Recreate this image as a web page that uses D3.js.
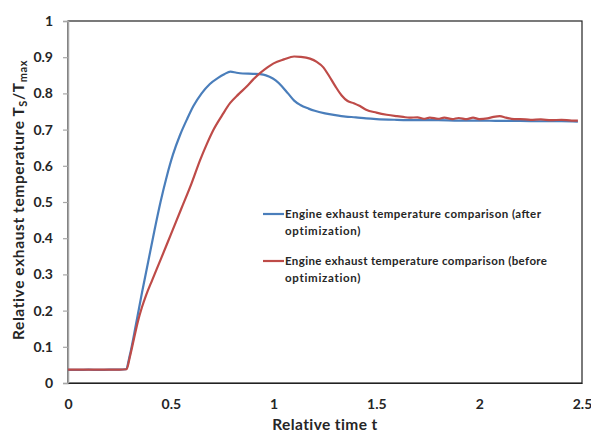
<!DOCTYPE html>
<html><head><meta charset="utf-8">
<script src="https://cdn.jsdelivr.net/npm/d3@7"></script>
<style>body{margin:0;background:#fff}svg{display:block}</style>
</head><body>
<svg id="chart" width="591" height="434"></svg>
<script>
const xTicks = [0, 0.5, 1, 1.5, 2, 2.5];
const yTicks = [0, 0.1, 0.2, 0.3, 0.4, 0.5, 0.6, 0.7, 0.8, 0.9, 1];
const seriesNames = [
  ["Engine exhaust temperature comparison (after", "optimization)"],
  ["Engine exhaust temperature comparison (before", "optimization)"]
];
const afterT = [0,0.05,0.1,0.15,0.2,0.25,0.282,0.3,0.33,0.36,0.39,0.42,0.45,0.48,0.51,0.545,0.58,0.61,0.65,0.69,0.73,0.76,0.79,0.82,0.85,0.9,0.95,0.98,1.01,1.04,1.07,1.1,1.13,1.17,1.2,1.25,1.3,1.35,1.4,1.45,1.5,1.6,1.7,1.8,1.9,2.0,2.1,2.2,2.3,2.4,2.48];
const afterV = [0.036,0.036,0.037,0.036,0.037,0.037,0.038,0.075,0.16,0.25,0.335,0.42,0.5,0.57,0.63,0.685,0.73,0.765,0.8,0.826,0.843,0.853,0.86,0.857,0.855,0.854,0.852,0.846,0.836,0.82,0.8,0.78,0.768,0.758,0.752,0.745,0.74,0.736,0.734,0.731,0.729,0.727,0.726,0.726,0.725,0.725,0.724,0.724,0.723,0.723,0.722];
const beforeT = [0,0.05,0.1,0.15,0.2,0.25,0.285,0.3,0.32,0.34,0.36,0.38,0.41,0.45,0.5,0.55,0.6,0.642,0.675,0.707,0.75,0.788,0.83,0.869,0.9,0.934,0.97,1.0,1.05,1.1,1.13,1.177,1.21,1.242,1.27,1.3,1.33,1.36,1.39,1.42,1.45,1.5,1.55,1.6,1.63,1.66,1.7,1.73,1.76,1.8,1.83,1.87,1.9,1.94,1.97,2.0,2.04,2.07,2.1,2.13,2.17,2.2,2.25,2.3,2.35,2.4,2.45,2.48];
const beforeV = [0.037,0.037,0.037,0.037,0.037,0.037,0.038,0.07,0.12,0.17,0.21,0.243,0.285,0.34,0.41,0.48,0.55,0.615,0.66,0.699,0.74,0.773,0.798,0.819,0.838,0.856,0.872,0.883,0.894,0.902,0.901,0.896,0.887,0.872,0.848,0.82,0.795,0.779,0.773,0.765,0.755,0.747,0.741,0.737,0.735,0.733,0.734,0.73,0.733,0.73,0.733,0.729,0.732,0.729,0.733,0.729,0.731,0.735,0.737,0.733,0.729,0.729,0.727,0.728,0.726,0.727,0.725,0.725];
const colors = ["#4a7ebb", "#be4b48"];

const svg = d3.select("#chart");
svg.append("rect").attr("width",591).attr("height",434).attr("fill","#fff");
const L = 68, R = 582, T = 21, B = 383;
const x = d3.scaleLinear().domain([0, 2.5]).range([L, R]);
const y = d3.scaleLinear().domain([0, 1]).range([B, T]);
const FONT = "Lato, sans-serif";

// frame
svg.append("rect").attr("x",L).attr("y",T).attr("width",R-L).attr("height",B-T)
  .attr("fill","none").attr("stroke","#222").attr("stroke-width",1.2);

// y axis
const yAxis = svg.append("g").attr("transform",`translate(${L},0)`)
  .call(d3.axisLeft(y).tickValues(yTicks).tickFormat(d3.format("")).tickSize(5).tickPadding(10));
yAxis.select(".domain").attr("stroke","#a6a6a6").attr("stroke-width",1.5);
yAxis.selectAll(".tick line").attr("stroke","#a6a6a6").attr("stroke-width",1.2);
yAxis.selectAll("text").attr("font-family",FONT).attr("font-weight","bold")
  .attr("font-size","14px").attr("fill","#262626");

// x axis
const xAxis = svg.append("g").attr("transform",`translate(0,${B})`)
  .call(d3.axisBottom(x).tickValues(xTicks).tickFormat(d3.format("")).tickSize(0).tickPadding(16));
xAxis.select(".domain").attr("stroke","#222").attr("stroke-width",1.2);
xAxis.selectAll("text").attr("font-family",FONT).attr("font-weight","bold")
  .attr("font-size","14px").attr("fill","#262626");

// axis titles
svg.append("text").attr("x",(L+R)/2).attr("y",430).attr("text-anchor","middle")
  .attr("font-family",FONT).attr("font-weight","bold").attr("font-size","15.5px")
  .attr("letter-spacing","0.4px").attr("fill","#262626").text("Relative time t");
const yt = svg.append("text").attr("transform","translate(24,200) rotate(-90)").attr("text-anchor","middle")
  .attr("font-family",FONT).attr("font-weight","bold").attr("font-size","15.5px")
  .attr("letter-spacing","0.6px").attr("fill","#262626");
yt.append("tspan").text("Relative exhaust temperature T");
yt.append("tspan").attr("baseline-shift","-25%").attr("font-size","11px").text("S");
yt.append("tspan").text("/T");
yt.append("tspan").attr("baseline-shift","-25%").attr("font-size","11px").text("max");

// lines
const line = d3.line().x(d => x(d[0])).y(d => y(d[1])).curve(d3.curveMonotoneX);
const series = [d3.zip(afterT, afterV), d3.zip(beforeT, beforeV)];
series.forEach((s, i) => {
  svg.append("path").datum(s).attr("d", line).attr("fill","none")
    .attr("stroke", colors[i]).attr("stroke-width", 2.2).attr("stroke-linejoin","round");
});

// legend
const legY = [214, 261];
const legW = [256, 262];
seriesNames.forEach((n, i) => {
  svg.append("line").attr("x1",263).attr("x2",284).attr("y1",legY[i]).attr("y2",legY[i])
    .attr("stroke",colors[i]).attr("stroke-width",2.2);
  const t = svg.append("text").attr("font-family",FONT).attr("font-weight","bold")
    .attr("font-size","11.5px").attr("fill","#262626");
  t.append("tspan").attr("x",285).attr("y",legY[i]+4)
    .attr("textLength",legW[i]).attr("lengthAdjust","spacing").text(n[0]);
  t.append("tspan").attr("x",285).attr("y",legY[i]+21).attr("letter-spacing","0.7px").text(n[1]);
});
</script>
</body></html>
